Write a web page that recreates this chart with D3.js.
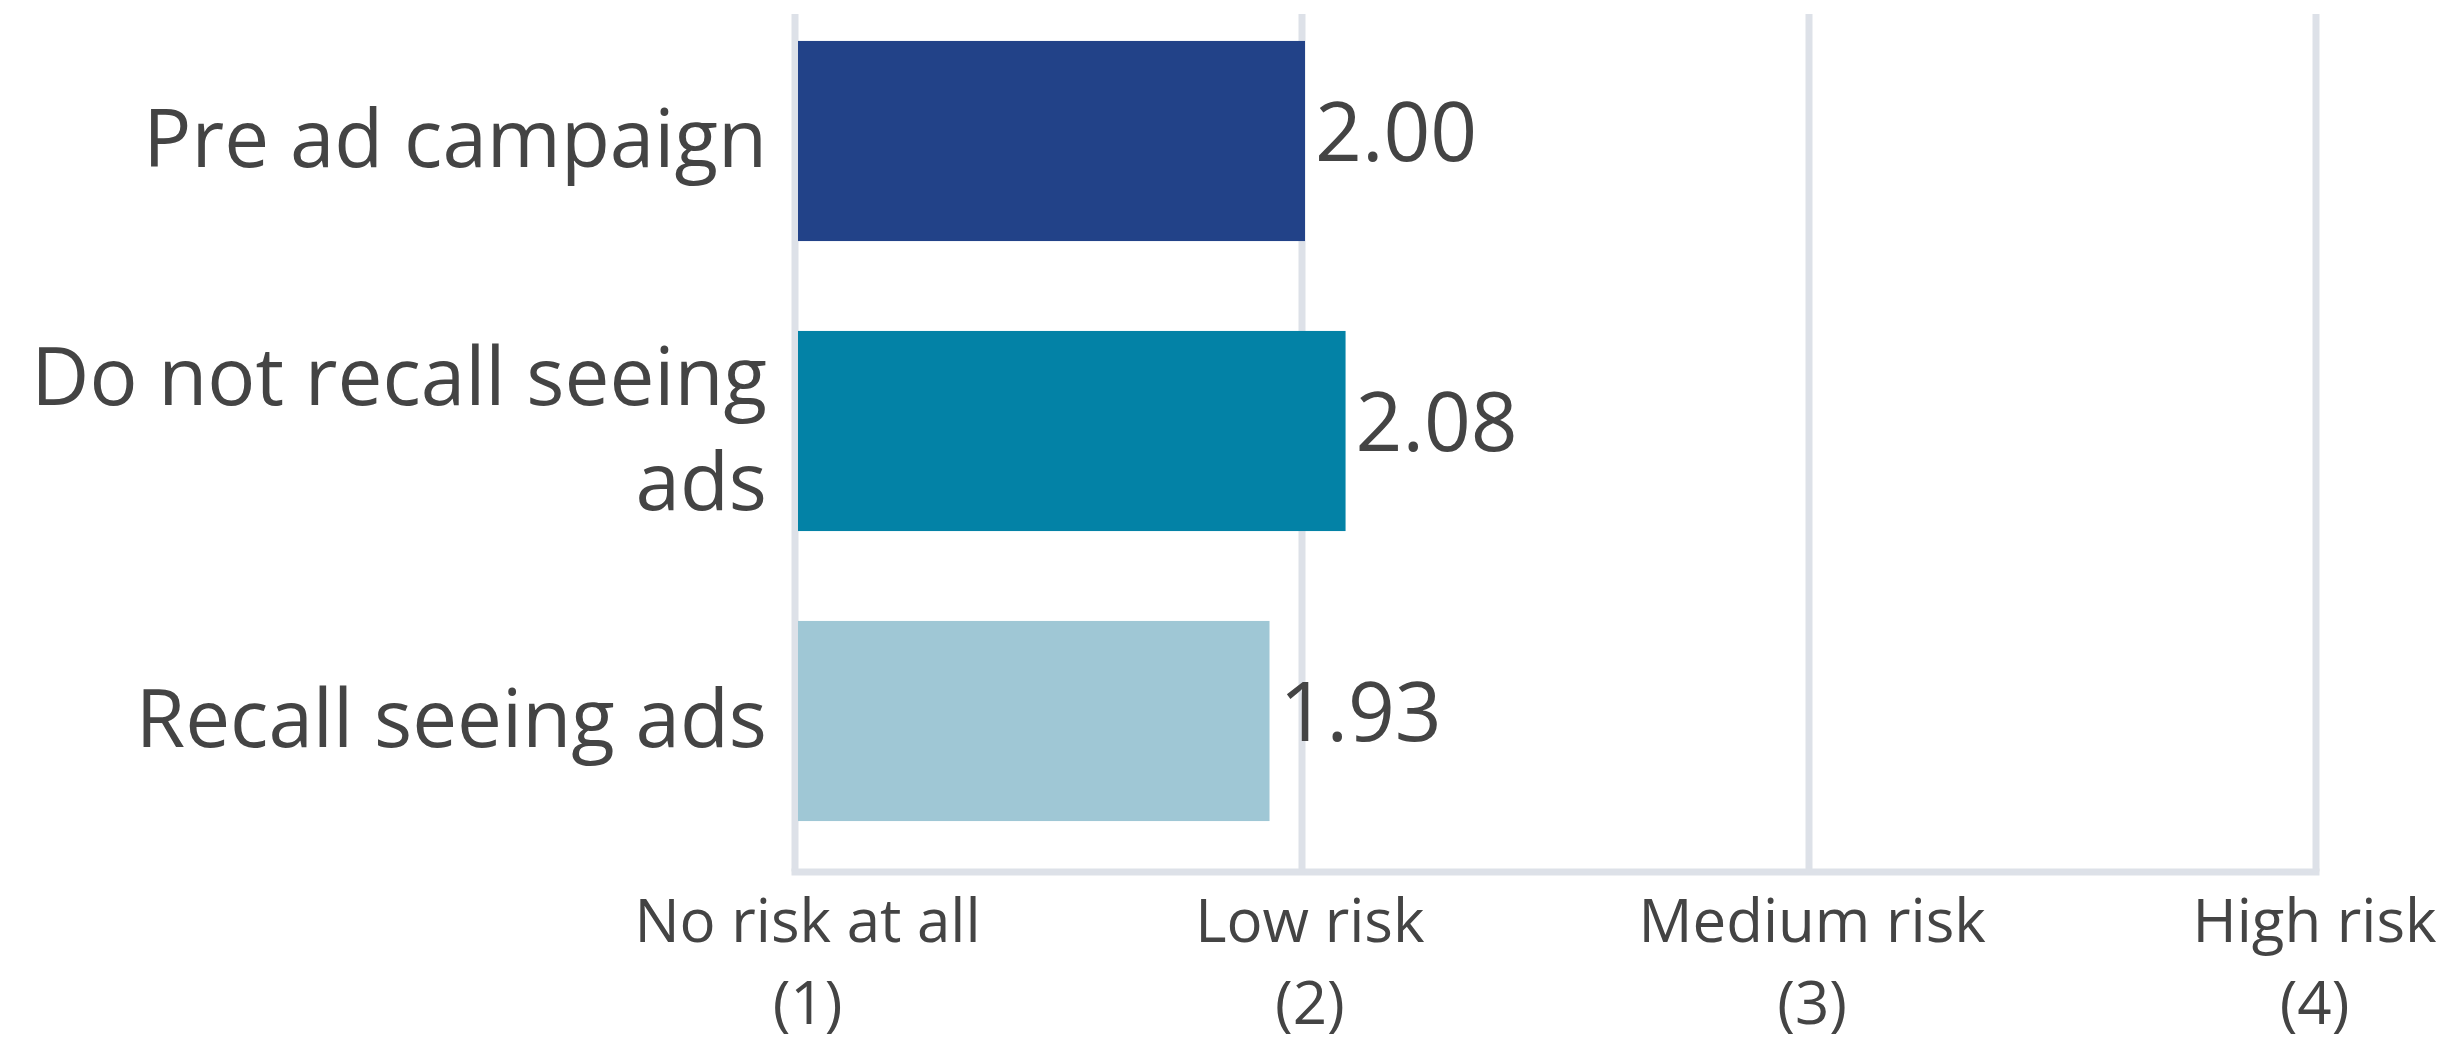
<!DOCTYPE html>
<html>
<head>
<meta charset="utf-8">
<script src="https://cdn.jsdelivr.net/npm/d3@7"></script>
<style>
  html, body { margin: 0; padding: 0; background: #ffffff; }
  svg { display: block; }
  text { font-family: "Open Sans", "Noto Sans", sans-serif; fill: #444444; }
</style>
</head>
<body>
<svg id="chart" width="2454" height="1042"></svg>
<script>
// ---- data ----
const categories = ["Pre ad campaign", "Do not recall seeing ads", "Recall seeing ads"];
const values = [2.00, 2.08, 1.93];
const barColors = ["#224288", "#0382A6", "#9FC7D5"];
const tickValues = [1, 2, 3, 4];
const tickLine1 = ["No risk at all", "Low risk", "Medium risk", "High risk"];
const tickLine2 = ["(1)", "(2)", "(3)", "(4)"];

// ---- layout ----
const W = 2454, H = 1042;
const axisY = 871.5;
const gridTop = 14;
const gridColor = "#dde1e8";

const svg = d3.select("#chart");

const x = d3.scaleLinear().domain([1, 4]).range([794.5, 2315.5]);
const xLabel = d3.scaleLinear().domain([1, 4]).range([807, 2314]);
const y = d3.scaleBand().domain(categories).range([-4, 866])
  .paddingInner(0.31).paddingOuter(0.155);

// x axis with gridlines
const xAxis = d3.axisBottom(x)
  .tickValues(tickValues)
  .tickSize(-(axisY - gridTop))
  .tickSizeOuter(0)
  .tickFormat("");

const gx = svg.append("g")
  .attr("transform", `translate(0,${axisY})`)
  .call(xAxis);

gx.select(".domain")
  .attr("stroke", gridColor)
  .attr("stroke-width", 7)
  .attr("stroke-linecap", "square");
gx.selectAll(".tick line")
  .attr("stroke", gridColor)
  .attr("stroke-width", 7);

gx.selectAll(".tick").each(function(d, i) {
  const g = d3.select(this);
  g.select("text").remove();
  const dx = xLabel(d) - x(d);
  g.append("text")
    .attr("x", dx).attr("y", 70)
    .attr("text-anchor", "middle")
    .style("font-size", "60px")
    .text(tickLine1[i]);
  g.append("text")
    .attr("x", dx).attr("y", 152)
    .attr("text-anchor", "middle")
    .style("font-size", "60px")
    .text(tickLine2[i]);
});

// bars
const data = categories.map((c, i) => ({ cat: c, value: values[i], color: barColors[i] }));

svg.append("g").selectAll("rect")
  .data(data)
  .join("rect")
  .attr("x", x(1) + 3.5)
  .attr("y", d => y(d.cat))
  .attr("width", d => x(d.value) - x(1))
  .attr("height", y.bandwidth())
  .attr("fill", d => d.color);

// value labels
svg.append("g").selectAll("text")
  .data(data)
  .join("text")
  .attr("x", d => x(d.value) + 3.5 + 10)
  .attr("y", d => y(d.cat) + y.bandwidth() / 2 + 20)
  .style("font-size", "82px")
  .text(d => d3.format(".2f")(d.value));

// y axis (category labels)
const yAxis = d3.axisLeft(y).tickSize(0).tickPadding(0);
const gy = svg.append("g")
  .attr("transform", "translate(767,0)")
  .call(yAxis);
gy.select(".domain").remove();

const lineH = 105;
gy.selectAll(".tick text")
  .attr("dy", null)
  .attr("x", 0)
  .attr("text-anchor", "end")
  .style("font-size", "80px")
  .attr("fill", "#444444")
  .each(function(d) {
    const t = d3.select(this);
    const words = d.split(/\s+/);
    t.text(null);
    const maxW = 770;
    let lines = [];
    let cur = [];
    const probe = t.append("tspan");
    words.forEach(w => {
      const test = cur.concat([w]).join(" ");
      probe.text(test);
      if (probe.node().getComputedTextLength() > maxW && cur.length) {
        lines.push(cur.join(" "));
        cur = [w];
      } else {
        cur.push(w);
      }
    });
    lines.push(cur.join(" "));
    probe.remove();
    const n = lines.length;
    lines.forEach((ln, k) => {
      t.append("tspan")
        .attr("x", 0)
        .attr("y", 26 + (k - (n - 1) / 2) * lineH)
        .text(ln);
    });
  });
</script>
</body>
</html>
